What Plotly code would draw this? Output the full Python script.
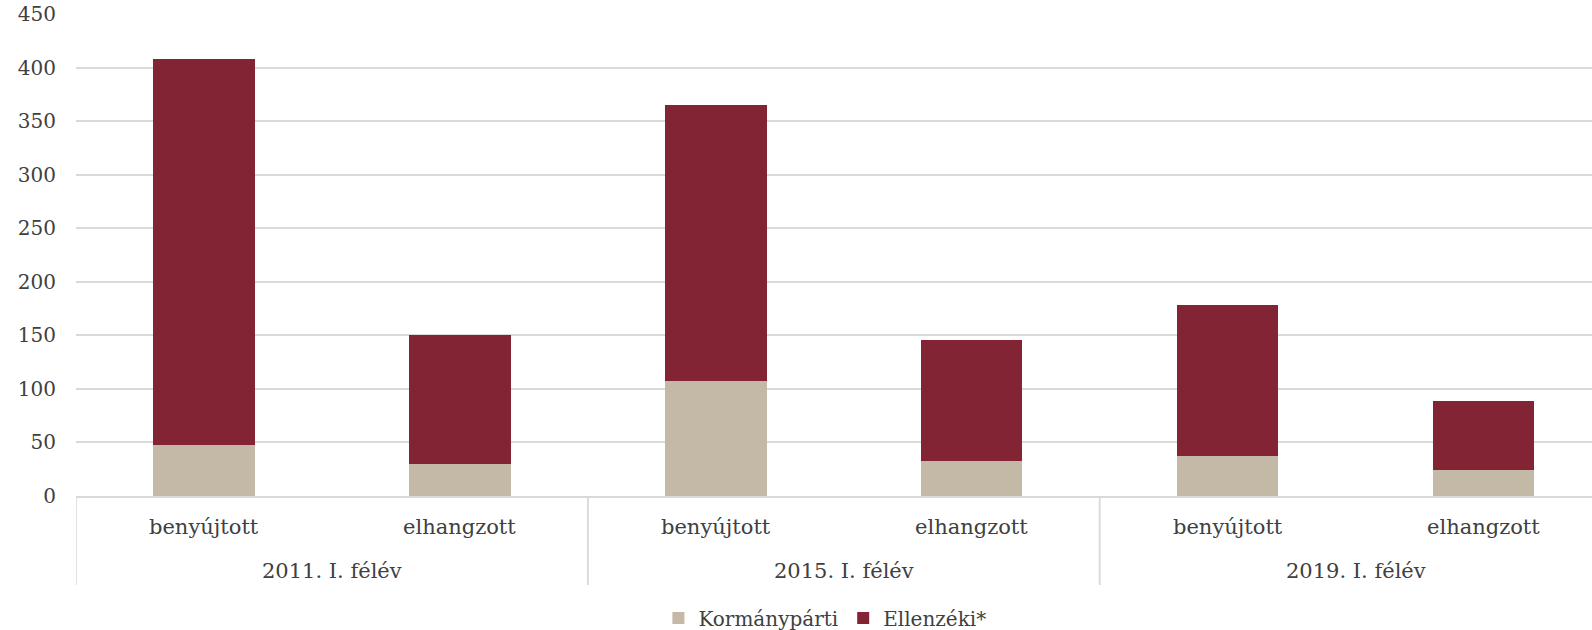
import plotly.graph_objects as go

groups = ["2011. I. félév", "2011. I. félév", "2015. I. félév", "2015. I. félév", "2019. I. félév", "2019. I. félév"]
subs = ["benyújtott", "elhangzott", "benyújtott", "elhangzott", "benyújtott", "elhangzott"]
kormanyparti = [48, 30, 107, 33, 37, 24]
ellenzeki_total = [408, 150, 365, 146, 178, 89]
ellenzeki = [t - k for t, k in zip(ellenzeki_total, kormanyparti)]
y_ticks = [0, 50, 100, 150, 200, 250, 300, 350, 400, 450]

FONT = "DejaVu Serif"
TXT = "#404040"
GRID = "#d9d9d9"
W, H = 1592, 630
M_L, M_T, M_B = 76, 14, 134
PLOT_H = H - M_T - M_B

pos = list(range(len(subs)))

fig = go.Figure()
fig.add_trace(go.Bar(x=pos, y=kormanyparti, name="Kormánypárti",
                     marker=dict(color="#C4B9A7", line=dict(width=0))))
fig.add_trace(go.Bar(x=pos, y=ellenzeki, name="Ellenzéki*",
                     marker=dict(color="#822433", line=dict(width=0))))

# sub-category labels
for p, s in zip(pos, subs):
    fig.add_annotation(x=p, xref="x", y=-31 / PLOT_H, yref="paper", text=s,
                       showarrow=False, xanchor="center", yanchor="middle",
                       font=dict(family=FONT, size=21, color=TXT))

# group labels and dividers
uniq = []
for g in groups:
    if g not in uniq:
        uniq.append(g)
for g in uniq:
    idx = [p for p, gg in zip(pos, groups) if gg == g]
    center = sum(idx) / len(idx)
    fig.add_annotation(x=center, xref="x", y=-75 / PLOT_H, yref="paper", text=g,
                       showarrow=False, xanchor="center", yanchor="middle",
                       font=dict(family=FONT, size=21, color=TXT))
    for edge in (min(idx) - 0.5, max(idx) + 0.5):
        fig.add_shape(type="line", x0=edge, x1=edge, xref="x", y0=0, y1=-89 / PLOT_H,
                      yref="paper", line=dict(color=GRID, width=1.5), layer="below")

fig.update_layout(
    barmode="stack",
    bargap=0.603,
    width=W, height=H,
    margin=dict(l=M_L, r=0, t=M_T, b=M_B, autoexpand=False),
    paper_bgcolor="white", plot_bgcolor="white",
    font=dict(family=FONT, size=20, color=TXT),
    showlegend=True,
    legend=dict(orientation="h", x=0.494, xanchor="center", y=-122 / PLOT_H, yanchor="middle",
                font=dict(family=FONT, size=20, color=TXT),
                traceorder="normal"),
    xaxis=dict(range=[-0.5, 5.424], showgrid=False, automargin=False,
               showline=True, linecolor=GRID, linewidth=1.5,
               showticklabels=False, ticks="", zeroline=False),
    yaxis=dict(range=[0, 450], tickvals=y_ticks, showgrid=True, gridcolor=GRID,
               gridwidth=1.5, zeroline=False, showline=False, automargin=False,
               ticklabelstandoff=19, ticklabeloverflow="allow",
               tickfont=dict(family=FONT, size=20, color=TXT)),
)

fig.write_html("out.html", config={"displayModeBar": False},
               post_script="document.body.style.margin='0';document.body.style.overflow='hidden';")
